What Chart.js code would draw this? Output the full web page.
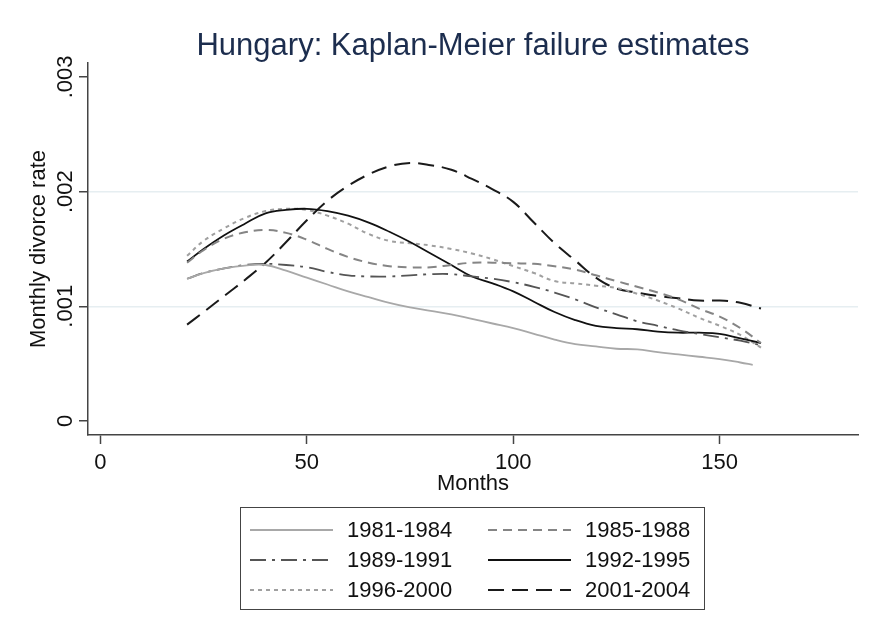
<!DOCTYPE html>
<html>
<head>
<meta charset="utf-8">
<script src="https://cdn.jsdelivr.net/npm/chart.js@4.4.1/dist/chart.umd.min.js"></script>
<style>
  body { margin: 0; background: #fff; }
  #wrap { position: relative; width: 875px; height: 630px; }
  #legend {
    position: absolute; left: 240px; top: 507px;
    border: 1px solid #444;
    display: grid; grid-template-columns: 238px 225px; grid-auto-rows: 30px;
    padding-top: 7px; padding-left: 9px; box-sizing: border-box; width: 465px; height: 103px;
    font: 22px "Liberation Sans", Arial, sans-serif; color: #111;
  }
  .item { display: flex; align-items: center; }
  .item svg { margin-right: 14px; }
</style>
</head>
<body>
<div id="wrap">
  <canvas id="chart" width="875" height="630"></canvas>
  <div id="legend"></div>
</div>
<script>
// months since marriage (x positions of the smoothed estimates)
const months = [21, 25, 30, 35, 40, 45, 50, 55, 60, 65, 70, 75, 80, 85, 90, 95, 100, 105, 110, 115, 120, 125, 130, 135, 140, 145, 150, 155, 160];
const months8184 = [21, 25, 30, 35, 40, 45, 50, 55, 60, 65, 70, 75, 80, 85, 90, 95, 100, 105, 110, 115, 120, 125, 130, 135, 140, 145, 150, 155, 158];

// monthly divorce rate per marriage cohort
const rate8184 = [.00124, .00129, .00133, .001355, .00136, .00131, .00125, .00119, .00113, .00108, .00103, .00099, .00096, .00093, .00089, .00085, .00081, .00076, .00071, .00067, .00065, .00063, .000625, .00060, .00058, .00056, .00054, .00051, .00049];
const rate8588 = [.00138, .00149, .00159, .001645, .001665, .00164, .00158, .00150, .00143, .00138, .00135, .00134, .00134, .00136, .00138, .00138, .001375, .00137, .00135, .00132, .00127, .00122, .00117, .00112, .00106, .00098, .00091, .00081, .00068];
const rate8991 = [.00124, .00129, .00133, .00136, .00137, .00136, .00134, .00130, .00127, .00126, .00126, .00127, .00128, .00128, .00126, .00124, .00121, .00117, .00112, .00106, .00099, .00093, .00087, .00083, .00079, .00076, .00073, .00070, .00066];
const rate9295 = [.00139, .00150, .00162, .00172, .00181, .00184, .00185, .00183, .00179, .00173, .00165, .00156, .00146, .00136, .00126, .00120, .00113, .00104, .00095, .00088, .00083, .00081, .00080, .00078, .00077, .00077, .00076, .00072, .00068];
const rate9600 = [.00144, .00157, .00168, .00177, .00183, .00185, .00184, .00179, .00172, .00163, .00157, .00155, .00153, .00150, .00146, .00141, .00135, .00129, .00122, .00120, .00118, .00116, .00111, .00105, .00098, .00090, .00083, .00075, .00064];
const rate0104 = [.00084, .00095, .00109, .00123, .00138, .00156, .00175, .00192, .00205, .00215, .00222, .00225, .00223, .00219, .00211, .00202, .00191, .00173, .00155, .00140, .00125, .001155, .00112, .00109, .00107, .00105, .00105, .00103, .00098];

const cohorts = ['1981-1984', '1985-1988', '1989-1991', '1992-1995', '1996-2000', '2001-2004'];
const xTicks = [0, 50, 100, 150];
const yTicks = [0, .001, .002, .003];
const yTickLabels = ['0', '.001', '.002', '.003'];

const FONT = '"Liberation Sans", Arial, sans-serif';

function series(label, xs, ys, color, dash, width) {
    return {
        label: label,
        data: xs.map((m, i) => ({ x: m, y: ys[i] })),
        borderColor: color,
        borderDash: dash,
        borderWidth: width,
        pointRadius: 0,
        fill: false,
        tension: 0.4
    };
}

const datasets = [
    series(cohorts[0], months8184, rate8184, '#a8a8a8', [], 1.8),
    series(cohorts[1], months, rate8588, '#858585', [9, 6], 2),
    series(cohorts[2], months, rate8991, '#555555', [16, 6, 3, 6], 1.8),
    series(cohorts[3], months, rate9295, '#111111', [], 1.8),
    series(cohorts[4], months, rate9600, '#a0a0a0', [4, 4], 2),
    series(cohorts[5], months, rate0104, '#1a1a1a', [16, 8], 2)
];

// rotated y tick labels, Stata style
const yLabelPlugin = {
    id: 'yLabelPlugin',
    afterDraw(chart) {
        const ys = chart.scales.y;
        const ctx = chart.ctx;
        ctx.save();
        ctx.font = '22px ' + FONT;
        ctx.fillStyle = '#111';
        ctx.textAlign = 'center';
        ctx.textBaseline = 'alphabetic';
        yTicks.forEach((v, i) => {
            ctx.save();
            ctx.translate(ys.right - 16, ys.getPixelForValue(v));
            ctx.rotate(-Math.PI / 2);
            ctx.fillText(yTickLabels[i], 0, 0);
            ctx.restore();
        });
        ctx.restore();
    }
};

const chart = new Chart(document.getElementById('chart'), {
    type: 'line',
    data: { datasets: datasets },
    plugins: [yLabelPlugin],
    options: {
        responsive: false,
        animation: false,
        devicePixelRatio: 1,
        layout: { padding: { top: 28, left: 28, right: 17, bottom: 135 } },
        plugins: {
            legend: { display: false },
            tooltip: { enabled: false },
            title: {
                display: true,
                fullSize: false,
                text: 'Hungary: Kaplan-Meier failure estimates',
                color: '#1c2d4e',
                font: { family: FONT, size: 31, weight: 'normal', lineHeight: 1.1 },
                padding: { top: 1, bottom: 0 }
            }
        },
        scales: {
            x: {
                type: 'linear',
                min: -3,
                max: 183.5,
                afterBuildTicks: s => { s.ticks = xTicks.map(v => ({ value: v })); },
                afterFit: s => { s.height = 60; },
                ticks: { color: '#111', font: { family: FONT, size: 22 }, padding: 6, maxRotation: 0 },
                grid: { color: 'rgba(0,0,0,0)', tickColor: '#444', tickLength: 9, tickWidth: 1.5 },
                border: { color: '#444', width: 1.5 },
                title: { display: true, text: 'Months', color: '#111', font: { family: FONT, size: 22, lineHeight: 1 }, padding: 0 }
            },
            y: {
                type: 'linear',
                min: -0.000122,
                max: 0.00312,
                afterBuildTicks: s => { s.ticks = yTicks.map(v => ({ value: v })); },
                afterFit: s => { s.width = 60; },
                ticks: { display: false },
                grid: {
                    color: c => (c.tick && (Math.abs(c.tick.value - .001) < 1e-9 || Math.abs(c.tick.value - .002) < 1e-9)) ? '#e6eef1' : 'rgba(0,0,0,0)',
                    lineWidth: 1.5,
                    tickColor: '#444', tickLength: 9, tickWidth: 1.5
                },
                border: { color: '#444', width: 1.5 },
                title: { display: true, text: 'Monthly divorce rate', color: '#111', font: { family: FONT, size: 22, lineHeight: 1 }, padding: 0 }
            }
        }
    }
});

// legend box built from the datasets
const legend = document.getElementById('legend');
datasets.forEach(ds => {
    const item = document.createElement('div');
    item.className = 'item';
    item.innerHTML = '<svg width="83" height="6"><line x1="0" y1="3" x2="83" y2="3" stroke="' + ds.borderColor +
        '" stroke-width="' + ds.borderWidth + '" stroke-dasharray="' + (ds.borderDash.length ? ds.borderDash.join(' ') : 'none') +
        '"/></svg><span>' + ds.label + '</span>';
    legend.appendChild(item);
});
</script>
</body>
</html>
